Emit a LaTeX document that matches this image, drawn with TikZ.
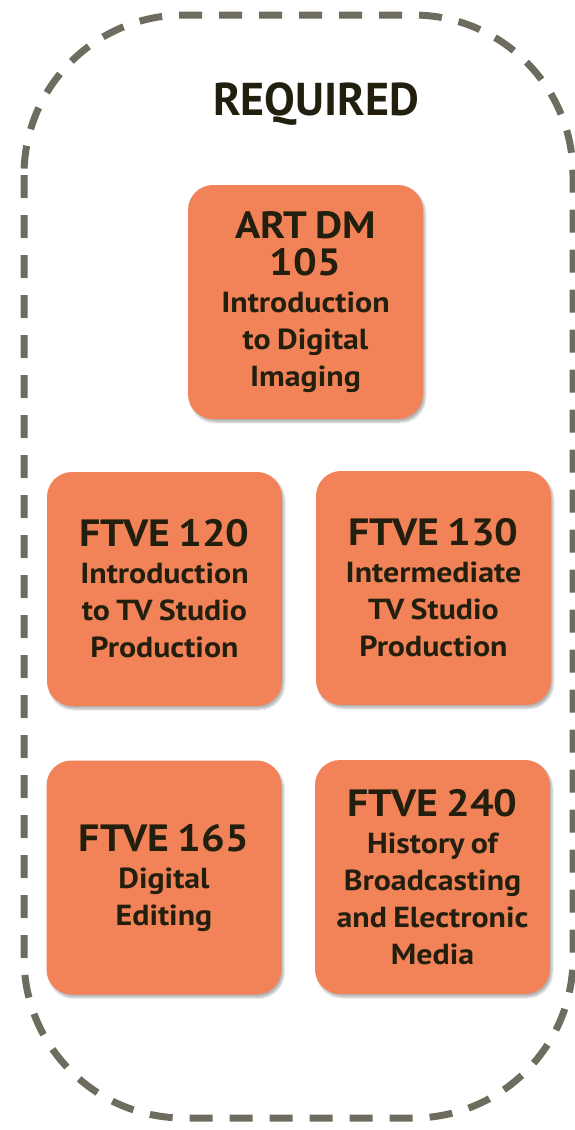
\documentclass[tikz,border=0pt]{standalone}
\usepackage{fontspec}
\setmainfont{PT Sans}[FakeStretch=1.1]
\newfontfamily\titlefamily{PT Sans}
\usetikzlibrary{shadows.blur}

\definecolor{coursefill}{HTML}{F28257}
\definecolor{coursetext}{HTML}{231F0F}
\definecolor{frameline}{HTML}{6E6C5E}

\newcommand{\codefont}{\bfseries\fontsize{38}{37}\selectfont\spaceskip=0.22em\relax}
\newcommand{\namefont}{\bfseries\fontsize{29}{37}\selectfont\spaceskip=0.22em\relax}

\begin{document}
\begin{tikzpicture}[x=1pt, y=-1pt,
                    course node/.style={rectangle, rounded corners=25pt, fill=coursefill,
                      minimum width=235pt, minimum height=234pt, text width=230pt,
                      align=center, text=coursetext, inner sep=0pt,
                      blur shadow={shadow xshift=2pt, shadow yshift=-3pt, shadow blur steps=6, shadow opacity=30}},
                    title node/.style={text=coursetext, font=\titlefamily\bfseries\fontsize{46}{46}\selectfont}]

  \useasboundingbox (0,0) rectangle (575,1130);

  % dashed frame
  \draw[frameline, line width=7pt, dash pattern=on 23pt off 17pt, rounded corners=160pt]
    (24,15) rectangle (573,1118);

  \node[title node] (req) at (316,104) {REQUIRED};

  \node[course node] (art) at (305.5,302)
    {{\codefont ART DM\\105\par}{\namefont Introduction\\to Digital\\Imaging\par}};
  \node[course node] (tva) at (164.5,589)
    {{\codefont FTVE 120\par}{\namefont Introduction\\to TV Studio\\Production\par}};
  \node[course node] (tvb) at (433.5,588)
    {{\codefont FTVE 130\par}{\namefont Intermediate\\TV Studio\\Production\par}};
  \node[course node] (edit) at (164,877.5)
    {{\codefont FTVE 165\par}{\namefont Digital\\Editing\par}};
  \node[course node] (hist) at (432.5,877)
    {{\codefont FTVE 240\par}{\namefont History of\\Broadcasting\\and Electronic\\Media\par}};

\end{tikzpicture}
\end{document}
